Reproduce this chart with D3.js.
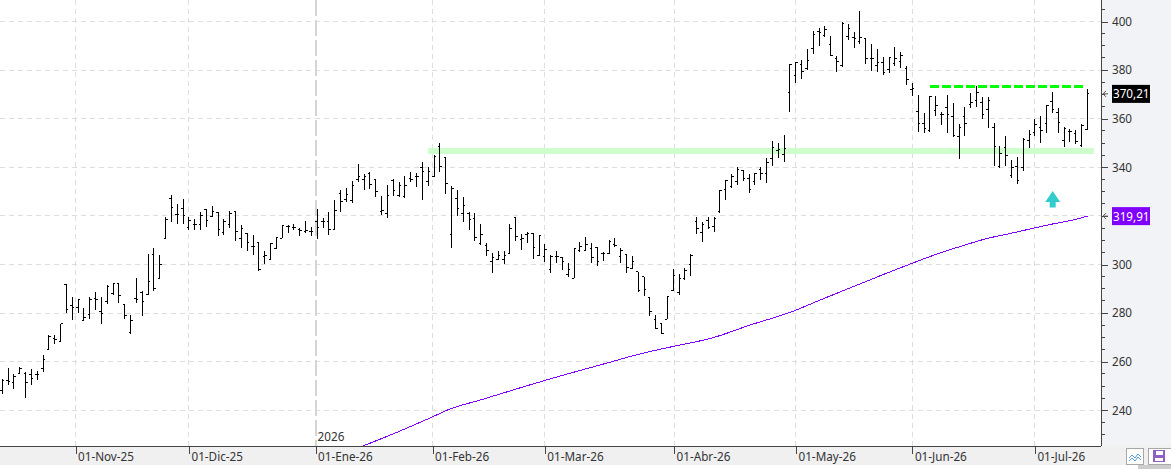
<!DOCTYPE html>
<html>
<head>
<meta charset="utf-8">
<script src="https://cdn.jsdelivr.net/npm/d3@7/dist/d3.min.js"></script>
<style>
html,body{margin:0;padding:0;background:#fff;overflow:hidden}
svg{display:block}
text{font-family:"Noto Sans",sans-serif;font-size:11.7px}
</style>
</head>
<body>
<div id="chart"></div>
<script>
// Daily OHLC prices, oldest session first
const highV = [252.8,257.6,254.8,257.9,255.6,257.2,256.1,262.7,270.9,270.9,275.7,291.8,286.5,285.9,281.9,286.5,288.8,286.8,291.5,292.3,292.3,283.5,279.1,294.3,289.3,304.3,306.7,303.9,319.4,328.6,324.9,327,319.4,318.6,321.8,322.7,324.1,321.4,318.8,322,322,316.1,312.9,312.2,309.1,305.6,308.7,311.5,316.1,316.1,316.6,314.9,317.7,315.3,322.7,319,321.5,326.5,330.7,331.3,334.4,341.4,337.1,337.9,335,328.2,332.7,335,333.8,336.4,337.9,337.6,342,340,345,349.9,344,332.4,330.7,327.6,321.5,321.1,316.5,308.7,304.6,305.7,305.7,316.6,319.4,312.5,313.5,312.8,312.1,308.3,303.8,305.5,302.9,300.5,306.6,309.1,311.2,308.7,307,305.3,310,310.7,306.6,304.3,303.5,297,294.7,286.5,279.2,276,287,298,296,298.4,304.3,319.7,317.4,319.7,319.7,330.7,334.8,337.1,340,338.9,337.2,337.8,340,343.7,350.8,349.9,353.3,382.5,383.2,384.2,388.5,396.1,397.2,398.2,394,385.9,399.7,399,395.5,404.3,393.1,390.7,388.5,385.3,385.3,389.5,387.6,381.7,374.6,369.8,362.2,369.5,369.3,362.9,369.6,366.3,357.8,364.9,370.4,373.4,368.8,368.8,358.1,348.7,352.9,343,344.1,351.9,355.3,359.7,361.1,365.6,371,364.6,356.4,355.6,355.3,357.7,372.1];
const lowV = [246.9,250.4,248.6,254.8,244.9,250.4,252.4,255.9,265,267.2,268.2,279.9,277.1,279.9,276.9,277.4,281.3,275.5,283.8,287.6,284.3,277.6,271.6,284.3,279,287.6,289.3,294.2,310.6,317.5,316.8,316.8,314,314,314,315.6,319.7,311.8,312.2,314.9,309.7,306.7,305.6,303.8,297.5,300.2,301.9,306.5,310.7,313.1,314,311.9,313.1,311.8,310.6,315.2,312.1,314.5,321.7,325.9,325.4,334.1,330.7,331.1,327.9,320.4,319.3,328.3,327.9,327.5,333.8,332,326.5,332.4,335.9,338.2,329.2,306.9,320,317.6,314.2,309.7,308,303.5,296.6,302,300.2,304.6,309.8,305.9,309,302.2,303.6,301,296.6,300.7,297.7,294.7,294.3,305.3,305.7,300.7,299.5,301.5,304.2,307,300.7,296.6,298,288.8,287.1,278.8,273.3,271.4,277.4,289.2,287.6,293.6,295.4,312.6,309.4,314.5,313.4,321,326.5,331.6,332.7,334.5,329.6,332.7,334.8,333.7,340.7,344,342.3,362.9,374.8,376.5,380.1,386.6,389.9,393.8,385.8,379.2,381.4,392.4,389.2,390.6,382.5,379.6,379.1,378.1,379,381.8,381,374,369.4,354.7,354.3,354.7,361.1,357.4,354,352.6,343.5,353,364.4,364.9,359.9,356.3,340.6,339.8,340.5,335.7,333.2,338.6,347.9,352.9,350.1,354,362.5,354.2,348.3,350.5,349.6,348.5,355.3];
const openV = [248.3,252.2,251.5,255.2,255.2,254.9,254.8,257.2,265,269.6,268.2,291.8,283.3,282.2,277.1,279.6,286.1,280.6,284.7,288.2,292.3,283.5,272,286.1,288.4,287.6,304.3,294.2,310.6,327,320.4,323.1,315.2,316.6,316.3,322.7,319.7,321.4,313.1,316.6,321.8,310.8,312.9,307.6,309.1,303.2,302.2,306.5,310.7,315.6,315.3,314.5,313.5,313.5,317.9,317.9,317.5,314.5,329.3,326.8,326.4,334.8,335,337.5,335,321.7,321.1,334.5,328.3,327.9,335.4,336.1,339.8,334.3,336.1,348.5,344,312.4,327.2,321.1,321.1,319,308.7,307.7,301.3,302.1,302.1,304.6,319.4,310.3,312.4,312.8,303.9,303.2,298,303.2,302.9,295.9,294.3,305.7,305.9,306.4,307,304.6,304.6,308.4,303.2,304.3,298.4,297,295,286.5,277.4,275.8,277.4,289.5,288.4,294.3,300,317.6,313.2,318,315.6,321.7,330.7,332.3,334.1,338.6,335.5,334.1,339.3,337.5,343.7,347.1,345.3,370.9,377.9,382.4,380.7,389,395.7,394.4,390.7,384.8,381.7,394,393.4,391.7,393.1,384.8,382,383.2,380.3,382.8,383.6,380.7,372.1,362.9,358.1,355.1,363.2,361.9,364.7,361.1,352.6,360.8,365.9,367.3,366.6,363.8,356.4,340.2,348.2,336.8,340.2,339.9,351.2,354.4,356.3,358.1,367,362.5,351.1,354.6,354,348.9,355.7];
const closeV = [252.4,251.8,254.1,257.2,251.5,253.1,254.8,260.7,270.3,269,275.7,281.5,282.3,285.4,278.1,285.4,285.7,280,290.9,292,287.3,279.2,276.9,285.7,284.9,293.2,290.2,299.8,318.6,323.5,320.4,320.1,318.1,316.6,320.1,318.3,321.8,314.5,317.7,321.1,313.5,314.9,309.1,307.6,298,303.8,308.7,311.2,316,315.6,315.3,314,313.9,313.5,315.3,317.9,314.5,322.4,326.1,328.9,332.7,336.2,336.4,333.1,330.1,322.4,328.5,330.5,332.7,332.4,335,336.4,338.2,338.2,344.6,340.5,333.4,331.3,323.1,324.4,318.6,311,312.4,305.7,302.7,303.5,303.5,314.9,311.7,310.7,312.8,307,311.8,306.2,303.2,303.2,301.1,298,306.4,307.3,308.3,302.8,301.1,304.6,309.4,308,305.7,298.8,301.4,289.1,289.9,280.8,273.7,271.6,286.7,295.3,294.3,297.7,303.9,314.9,316.3,315.3,319,330.4,334.5,336.4,339.2,335.2,330.7,337.5,337.5,341.9,348.2,347.4,347.8,382.1,383.2,379.6,383.9,394.7,395.4,396.8,386.2,383.6,399,397.2,393.1,393.4,384.8,384.8,383.2,379.1,385,384.8,386.2,376.2,372.5,358.1,356,369.3,365.3,361.9,361.8,353.2,356.4,358.1,366.6,370.7,361.9,367.3,348.7,345.7,345,339.9,334.7,351.6,353.4,357.7,355.3,365.3,363.6,358.5,356,354.9,350.8,357.4,370.21];

// Long moving average, sampled at session positions
const maSession = [61.8,68.2,73.65,76.7,81.9,88.7,95.6,102.4,109.3,116.2,121.3,128.2,135.5,140.2,147,153.9,160.7,165,168.5,173.2,180.1,183.5,186];
const maValue = [225.3,231.5,237.2,240.5,244.2,249.2,254.1,258.6,263.2,266.9,269.5,275.1,280.7,285.4,292,298.6,304.7,308,310.5,313,316.7,318.3,319.91];

// Month boundaries along the session axis, and the price scale ticks
const monthPos = [12.55,32,53.7,73.75,93,115.15,136.05,156,177];
const monthLabels = ["01-Nov-25","01-Dic-25","01-Ene-26","01-Feb-26","01-Mar-26","01-Abr-26","01-May-26","01-Jun-26","01-Jul-26"];
const priceTicks = [240,260,280,300,320,340,360,380,400];
const minorTicks = d3.range(230,406,5);
const yearBoundary = 53.7, yearLabel = "2026";

// Drawn levels and markers
const supportLevel = 346.7, supportFrom = 72.97, supportTo = 187.1;
const resistLevel = 373.2, resistFrom = 159, resistTo = 185.8;
const arrowSession = 180.05, arrowPrice = 327;
const lastClose = 370.21, lastMA = 319.91;

const W = 1171, H = 469, plotR = 1101, plotB = 446;
const x = d3.scaleLinear().domain([0, closeV.length - 1]).range([2.3, 1087.4]);
const y = d3.scaleLinear().domain([240, 400]).range([410.3, 21.5]);
const bars = closeV.map((c, i) => ({i, o: openV[i], h: highV[i], l: lowV[i], c}));

const svg = d3.select("#chart").append("svg").attr("width", W).attr("height", H);
svg.append("rect").attr("width", W).attr("height", H).attr("fill", "#fff");

// Price panel and date strip backgrounds
svg.append("rect").attr("x", plotR).attr("y", 0).attr("width", W - plotR).attr("height", plotB).attr("fill", "#f2f3f6");
svg.append("rect").attr("x", 0).attr("y", plotB).attr("width", W).attr("height", 19).attr("fill", "#f0f0f0");
svg.append("rect").attr("x", 1138).attr("y", 465).attr("width", 33).attr("height", 4).attr("fill", "#cdcdcd");

svg.append("defs").append("clipPath").attr("id", "plot")
  .append("rect").attr("width", plotR).attr("height", plotB);

// Grid
const grid = svg.append("g").attr("shape-rendering", "crispEdges").attr("fill", "none");
grid.selectAll(".h").data(priceTicks).join("line").attr("class", "h")
  .attr("x1", 0).attr("x2", plotR).attr("y1", d => y(d)).attr("y2", d => y(d))
  .attr("stroke", "#dedede").attr("stroke-dasharray", "5,4");
grid.selectAll(".v").data(monthPos.filter(d => d !== yearBoundary)).join("line").attr("class", "v")
  .attr("y1", 0).attr("y2", plotB).attr("x1", d => x(d)).attr("x2", d => x(d))
  .attr("stroke", "#dedede").attr("stroke-dasharray", "5,4");
grid.append("line").attr("y1", 0).attr("y2", plotB).attr("x1", x(yearBoundary)).attr("x2", x(yearBoundary))
  .attr("stroke", "#d4d4d4").attr("stroke-width", 2).attr("stroke-dasharray", "16,4");

svg.append("text").attr("x", x(yearBoundary) + 2).attr("y", 441).attr("fill", "#333").text(yearLabel);

// Support band and resistance line
const plot = svg.append("g").attr("clip-path", "url(#plot)");
plot.append("line").attr("x1", x(supportFrom)).attr("x2", x(supportTo))
  .attr("y1", y(supportLevel)).attr("y2", y(supportLevel))
  .attr("stroke", "#ccffcc").attr("stroke-width", 6);

// Moving average
plot.append("path").datum(maSession.map((s, i) => [s, maValue[i]]))
  .attr("fill", "none").attr("stroke", "#8000ff").attr("stroke-width", 1).attr("shape-rendering", "crispEdges")
  .attr("d", d3.line().curve(d3.curveMonotoneX).x(d => x(d[0])).y(d => y(d[1])));

// OHLC bars
const g = plot.append("g").attr("stroke", "#000").attr("shape-rendering", "crispEdges");
const bar = g.selectAll("g").data(bars).join("g");
bar.append("line").attr("x1", d => x(d.i)).attr("x2", d => x(d.i)).attr("y1", d => y(d.h)).attr("y2", d => y(d.l));
bar.append("line").attr("x1", d => x(d.i) - 2).attr("x2", d => x(d.i)).attr("y1", d => y(d.o)).attr("y2", d => y(d.o));
bar.append("line").attr("x1", d => x(d.i)).attr("x2", d => x(d.i) + 2).attr("y1", d => y(d.c)).attr("y2", d => y(d.c));

plot.append("line").attr("x1", x(resistFrom)).attr("x2", x(resistTo))
  .attr("y1", y(resistLevel)).attr("y2", y(resistLevel))
  .attr("stroke", "#00ff00").attr("stroke-width", 3).attr("stroke-dasharray", "9,3")
  .attr("shape-rendering", "crispEdges");

// Upward marker
const ax = x(arrowSession), ay = y(arrowPrice);
svg.append("path")
  .attr("d", `M${ax},${ay - 8}L${ax + 7.5},${ay + 3}H${ax + 3}V${ay + 8.5}H${ax - 3}V${ay + 3}H${ax - 7.5}Z`)
  .attr("fill", "#33cccc");

// Date axis
const xAxis = d3.axisBottom(x).tickValues(monthPos).tickSize(8).tickPadding(0)
  .tickFormat((d, i) => monthLabels[i]);
const xg = svg.append("g").attr("transform", `translate(0,${plotB})`).call(xAxis);
xg.select(".domain").attr("d", `M0,0.5H${plotR}`).attr("stroke", "#444");
xg.selectAll(".tick line").attr("stroke", "#444").attr("shape-rendering", "crispEdges");
xg.selectAll(".tick text").attr("text-anchor", "start").attr("x", 2).attr("y", 7).attr("dy", "0.71em")
  .attr("fill", "#333").style("font-family", '"Noto Sans",sans-serif').style("font-size", "11.7px");

// Price axis; the 320 label sits behind the moving-average flag, so it stays unwritten
const yAxis = d3.axisRight(y).tickValues(priceTicks).tickSize(7).tickPadding(4)
  .tickFormat(d => d === 320 ? "" : d3.format("d")(d));
const yg = svg.append("g").attr("transform", `translate(${plotR},0)`).call(yAxis);
yg.select(".domain").attr("d", `M0.5,0V${plotB}`).attr("stroke", "#444");
yg.selectAll(".tick line").attr("stroke", "#444").attr("shape-rendering", "crispEdges");
yg.selectAll(".tick text").attr("fill", "#333").style("font-family", '"Noto Sans",sans-serif').style("font-size", "11.7px");
yg.selectAll(".minor").data(minorTicks.filter(d => !priceTicks.includes(d) && y(d) < plotB)).join("line").attr("class", "minor")
  .attr("x1", 0).attr("x2", 4).attr("y1", d => y(d)).attr("y2", d => y(d))
  .attr("stroke", "#444").attr("shape-rendering", "crispEdges");

// Last-value flags
const fmt = v => v.toFixed(2).replace(".", ",");
[[lastClose, "#000"], [lastMA, "#8000ff"]].forEach(([v, col]) => {
  const cy = y(v);
  svg.append("path").attr("d", `M${plotR + 7},${cy}H${plotR + 2}m3,-3l-3,3l3,3`).attr("fill", "none").attr("stroke", "#555");
  svg.append("rect").attr("x", 1112).attr("y", cy - 9).attr("width", 38).attr("height", 18).attr("fill", col);
  svg.append("text").attr("x", 1113).attr("y", cy + 4.5).attr("fill", "#fff").text(fmt(v));
});

// Toolbar buttons in the corner
const btn = svg.append("g");
btn.append("rect").attr("x", 1126.5).attr("y", 448.5).attr("width", 17).attr("height", 16).attr("fill", "#fff").attr("stroke", "#a8a8a8");
btn.append("path").attr("d", "M1129,458l3,-3l3,3l3,-4l3,3M1129,461l3,-3l3,3l3,-4l3,3").attr("fill", "none").attr("stroke", "#5b9bd5");
btn.append("rect").attr("x", 1148.5).attr("y", 448.5).attr("width", 23).attr("height", 16).attr("fill", "#fff").attr("stroke", "#a8a8a8");
btn.append("path").attr("d", "M1153,450H1165V462H1153ZM1156,451V455H1163V451ZM1155,458V461H1163V458Z").attr("fill", "#8f5fc4").attr("fill-rule", "evenodd");
</script>
</body>
</html>
